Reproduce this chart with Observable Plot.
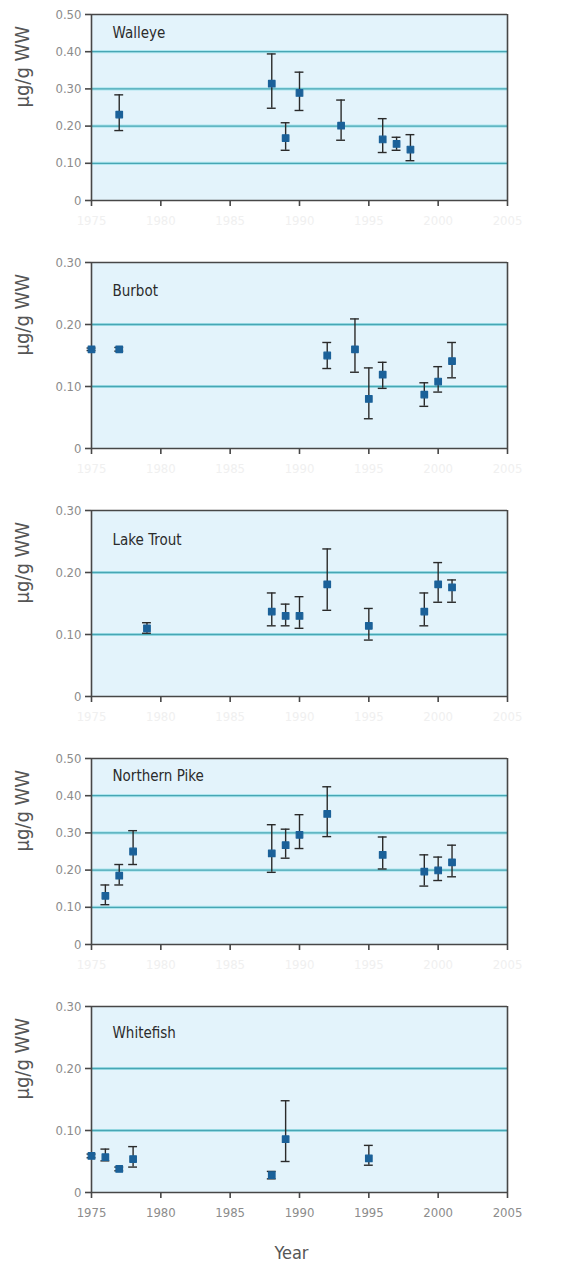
<!DOCTYPE html>
<html><head><meta charset="utf-8">
<script src="https://cdn.jsdelivr.net/npm/d3@7"></script>
<script src="https://cdn.jsdelivr.net/npm/@observablehq/plot@0.6"></script>
<style>
body{margin:0;background:#fff;}
#chart svg{display:block;}
</style></head><body><div id="chart"></div>
<script>
const FONT = '"DejaVu Sans Condensed","Liberation Sans Narrow","Liberation Sans",sans-serif';

// tick labels
const yearTicks = [1975, 1980, 1985, 1990, 1995, 2000, 2005];
const yTicksHigh = [0, 0.1, 0.2, 0.3, 0.4, 0.5];
const yTicksLow = [0, 0.1, 0.2, 0.3];

// categories
const species = ["Walleye", "Burbot", "Lake Trout", "Northern Pike", "Whitefish"];

// Walleye
const walleyeYears = [1977, 1988, 1989, 1990, 1993, 1996, 1997, 1998];
const walleyeMean  = [0.231, 0.314, 0.168, 0.289, 0.201, 0.164, 0.152, 0.137];
const walleyeLow   = [0.188, 0.248, 0.135, 0.242, 0.162, 0.129, 0.135, 0.107];
const walleyeHigh  = [0.284, 0.394, 0.209, 0.345, 0.270, 0.220, 0.170, 0.177];

// Burbot
const burbotYears = [1975, 1977, 1992, 1994, 1995, 1996, 1999, 2000, 2001];
const burbotMean  = [0.160, 0.160, 0.150, 0.160, 0.080, 0.119, 0.087, 0.108, 0.141];
const burbotLow   = [0.158, 0.157, 0.129, 0.123, 0.048, 0.097, 0.068, 0.091, 0.114];
const burbotHigh  = [0.162, 0.163, 0.171, 0.209, 0.130, 0.139, 0.106, 0.132, 0.171];

// Lake Trout
const troutYears = [1979, 1988, 1989, 1990, 1992, 1995, 1999, 2000, 2001];
const troutMean  = [0.110, 0.137, 0.130, 0.130, 0.181, 0.114, 0.137, 0.181, 0.176];
const troutLow   = [0.102, 0.114, 0.114, 0.110, 0.139, 0.091, 0.114, 0.152, 0.152];
const troutHigh  = [0.119, 0.167, 0.149, 0.161, 0.238, 0.142, 0.167, 0.216, 0.188];

// Northern Pike
const pikeYears = [1976, 1977, 1978, 1988, 1989, 1990, 1992, 1996, 1999, 2000, 2001];
const pikeMean  = [0.131, 0.185, 0.250, 0.245, 0.267, 0.295, 0.351, 0.241, 0.196, 0.199, 0.221];
const pikeLow   = [0.107, 0.160, 0.215, 0.194, 0.232, 0.258, 0.290, 0.203, 0.157, 0.172, 0.182];
const pikeHigh  = [0.160, 0.215, 0.306, 0.322, 0.310, 0.349, 0.424, 0.289, 0.241, 0.235, 0.267];

// Whitefish
const whiteYears = [1975, 1976, 1977, 1978, 1988, 1989, 1995];
const whiteMean  = [0.059, 0.057, 0.038, 0.054, 0.028, 0.086, 0.055];
const whiteLow   = [0.056, 0.051, 0.035, 0.041, 0.022, 0.050, 0.044];
const whiteHigh  = [0.062, 0.070, 0.041, 0.074, 0.034, 0.148, 0.076];

const seriesYears = [walleyeYears, burbotYears, troutYears, pikeYears, whiteYears];
const seriesMean  = [walleyeMean, burbotMean, troutMean, pikeMean, whiteMean];
const seriesLow   = [walleyeLow, burbotLow, troutLow, pikeLow, whiteLow];
const seriesHigh  = [walleyeHigh, burbotHigh, troutHigh, pikeHigh, whiteHigh];
const seriesTicks = [yTicksHigh, yTicksLow, yTicksLow, yTicksHigh, yTicksLow];

// layout (style only)
const labelDy = [13, 23, 24, 12, 21];

const AXIS = "#474747";
const chart = document.getElementById("chart");

species.forEach((name, i) => {
  const last = i === species.length - 1;
  const ticks = seriesTicks[i];
  const yMax = ticks[ticks.length - 1];
  const grid = ticks.filter(t => t > 0 && t < yMax);
  const data = seriesYears[i].map((yr, j) => ({
    year: yr, mean: seriesMean[i][j], lo: seriesLow[i][j], hi: seriesHigh[i][j]
  }));
  const capW = 0.32;
  const svg = Plot.plot({
    width: 582,
    height: last ? 273 : 248,
    marginLeft: 91,
    marginRight: 75,
    marginTop: 14,
    marginBottom: last ? 73 : 48,
    x: {domain: [1975, 2005]},
    y: {domain: [0, yMax]},
    style: {fontFamily: FONT, background: "transparent", overflow: "visible"},
    marks: [
      Plot.frame({fill: "#e3f3fb", stroke: null}),
      Plot.ruleY(grid, {stroke: "#aee6ef", strokeWidth: 3.2}),
      Plot.ruleY(grid, {stroke: "#47a6b4", strokeWidth: 1.3}),
      Plot.ruleY([yMax], {stroke: AXIS, strokeWidth: 1.6}),
      Plot.ruleX([2005], {stroke: AXIS, strokeWidth: 1.6}),
      Plot.ruleX([1975], {stroke: AXIS, strokeWidth: 1.6}),
      Plot.ruleY([0], {stroke: AXIS, strokeWidth: 1.6}),
      Plot.axisY(ticks, {
        tickSize: 6, tickPadding: 4,
        tickFormat: d => d === 0 ? "0" : d.toFixed(2),
        fill: "#8c8c8c", stroke: AXIS, strokeWidth: 1.6, fontSize: 13, label: null
      }),
      Plot.axisX(yearTicks, {
        tickSize: 6, tickPadding: 9,
        tickFormat: d => String(d),
        fill: last ? "#8c8c8c" : "#f0f0f0", stroke: AXIS, strokeWidth: 1.6, fontSize: 13, label: null
      }),
      Plot.ruleX(data, {x: "year", y1: "lo", y2: "hi", stroke: "#2a2a2a", strokeWidth: 1.4}),
      Plot.ruleY(data, {y: "hi", x1: d => d.year - capW, x2: d => d.year + capW, stroke: "#2a2a2a", strokeWidth: 1.4}),
      Plot.ruleY(data, {y: "lo", x1: d => d.year - capW, x2: d => d.year + capW, stroke: "#2a2a2a", strokeWidth: 1.4}),
      Plot.dot(data, {
        x: "year", y: "mean", symbol: "square", r: 3.7,
        fill: "#1b6199", stroke: "#1b6199", strokeWidth: 1.2, strokeLinejoin: "round"
      }),
      Plot.text([name], {
        frameAnchor: "top-left", dx: 21, dy: labelDy[i],
        fontSize: 15, fill: "#2b2b2b"
      }),
      Plot.text(["µg/g WW"], {
        frameAnchor: "left", dx: -69, rotate: -90, fontSize: 20, fill: "#555"
      }),
      last ? Plot.text(["Year"], {
        frameAnchor: "bottom", dx: -8, dy: 66, fontSize: 18, fill: "#555"
      }) : null
    ]
  });
  chart.appendChild(svg);
});
</script>
</body></html>
